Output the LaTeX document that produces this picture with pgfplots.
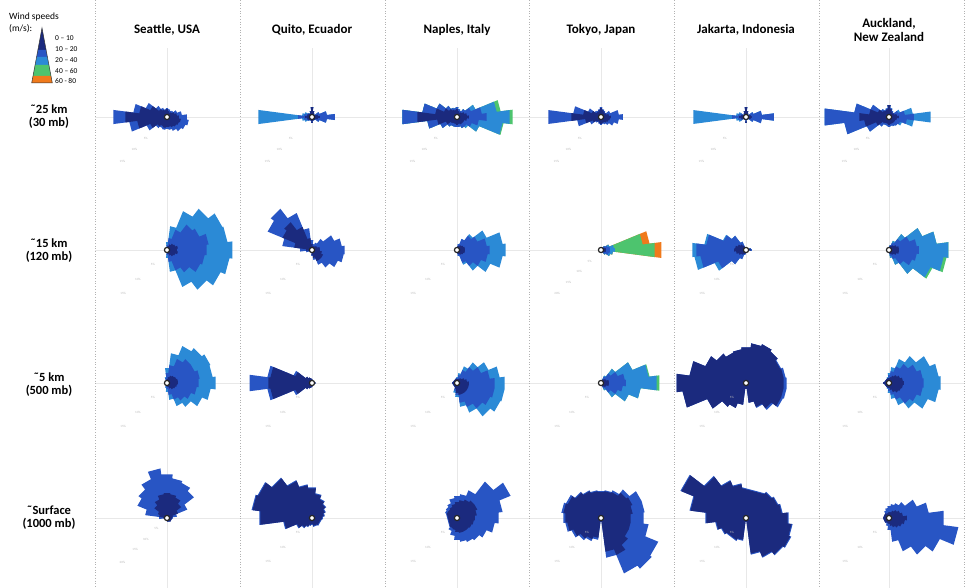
\documentclass[border=0pt]{standalone}
\usepackage{fontspec}
\setmainfont{Carlito}
\usepackage{pgfplots}
\pgfplotsset{compat=1.18}
\usepackage{pgfplotstable}
\usepgfplotslibrary{polar}
\definecolor{cA}{HTML}{1B2A7E}
\definecolor{cB}{HTML}{2855C4}
\definecolor{cC}{HTML}{2B8AD6}
\definecolor{cD}{HTML}{4DC46E}
\definecolor{cE}{HTML}{F07A1C}
\pgfplotsset{
  rose/.style={width=200pt,height=200pt,scale only axis,xmin=0,xmax=360,ymin=0,ymax=100,
    enlargelimits=false,hide axis,clip=false,anchor=center},
  ctr/.style={mark=*,mark size=2.6pt,mark options={fill=white,draw=black!85,line width=1.2pt}},
}
\tikzset{rl/.style={font=\fontsize{3.2}{3.2}\selectfont,text=gray!55,inner sep=0pt}}
% ---------- 25 km ----------
\pgfplotstableread{
a r1 r2
-7.5 12 20
7.5 12 20
7.5 10 15
22.5 10 15
22.5 8 11
37.5 8 11
37.5 6 8
52.5 6 8
52.5 5 7
67.5 5 7
67.5 6 8
82.5 6 8
82.5 8 9
97.5 8 9
97.5 7 8
112.5 7 8
112.5 8 10
127.5 8 10
127.5 10 14
142.5 10 14
142.5 18 23
157.5 18 23
157.5 28 34
172.5 28 34
172.5 42 54
187.5 42 54
187.5 30 38
202.5 30 38
202.5 18 22
217.5 18 22
217.5 12 14
232.5 12 14
232.5 10 12
247.5 10 12
247.5 11 13
262.5 11 13
262.5 10 12
277.5 10 12
277.5 10 13
292.5 10 13
292.5 11 15
307.5 11 15
307.5 12 18
322.5 12 18
322.5 13 20
337.5 13 20
337.5 14 22
352.5 14 22
}\tAa
\pgfplotstableread{
a r1 r2 r3
-7.5 8 23 23
7.5 8 23 23
7.5 6 15 15
22.5 6 15 15
22.5 4 8 8
37.5 4 8 8
37.5 3 3 3
52.5 3 3 3
52.5 4 4 4
67.5 4 4 4
67.5 6 6 6
82.5 6 6 6
82.5 10 10 10
97.5 10 10 10
97.5 6 6 6
112.5 6 6 6
112.5 4 4 4
127.5 4 4 4
127.5 4 5 5
142.5 4 5 5
142.5 5 6 8
157.5 5 6 8
157.5 5 8 10
172.5 5 8 10
172.5 7 14 54
187.5 7 14 54
187.5 5 8 10
202.5 5 8 10
202.5 5 6 8
217.5 5 6 8
217.5 4 5 5
232.5 4 5 5
232.5 3 3 3
247.5 3 3 3
247.5 4 4 4
262.5 4 4 4
262.5 6 6 6
277.5 6 6 6
277.5 4 4 4
292.5 4 4 4
292.5 3 3 3
307.5 3 3 3
307.5 4 4 4
322.5 4 4 4
322.5 4 8 8
337.5 4 8 8
337.5 6 15 15
352.5 6 15 15
}\tAb
\pgfplotstableread{
a r1 r2 r3 r4
-7.5 12 30 53 56
7.5 12 30 53 56
7.5 10 25 40 44
22.5 10 25 40 44
22.5 8 15 20 20
37.5 8 15 20 20
37.5 6 10 10 10
52.5 6 10 10 10
52.5 5 7 7 7
67.5 5 7 7 7
67.5 6 8 8 8
82.5 6 8 8 8
82.5 8 10 10 10
97.5 8 10 10 10
97.5 7 9 9 9
112.5 7 9 9 9
112.5 8 10 10 10
127.5 8 10 10 10
127.5 10 14 14 14
142.5 10 14 14 14
142.5 14 22 22 22
157.5 14 22 22 22
157.5 22 35 35 35
172.5 22 35 35 35
172.5 40 55 55 55
187.5 40 55 55 55
187.5 20 30 30 30
202.5 20 30 30 30
202.5 12 18 18 18
217.5 12 18 18 18
217.5 8 12 12 12
232.5 8 12 12 12
232.5 7 10 10 10
247.5 7 10 10 10
247.5 7 10 10 10
262.5 7 10 10 10
262.5 8 10 10 10
277.5 8 10 10 10
277.5 7 10 10 10
292.5 7 10 10 10
292.5 8 12 12 12
307.5 8 12 12 12
307.5 8 12 14 14
322.5 8 12 14 14
322.5 8 16 24 24
337.5 8 16 24 24
337.5 10 22 46 47
352.5 10 22 46 47
}\tAc
\pgfplotstableread{
a r1 r2
-7.5 10 22
7.5 10 22
7.5 8 18
22.5 8 18
22.5 6 10
37.5 6 10
37.5 5 6
52.5 5 6
52.5 6 7
67.5 6 7
67.5 7 8
82.5 7 8
82.5 9 10
97.5 9 10
97.5 7 8
112.5 7 8
112.5 6 7
127.5 6 7
127.5 6 8
142.5 6 8
142.5 10 14
157.5 10 14
157.5 18 28
172.5 18 28
172.5 30 53
187.5 30 53
187.5 16 24
202.5 16 24
202.5 9 12
217.5 9 12
217.5 6 7
232.5 6 7
232.5 5 6
247.5 5 6
247.5 6 7
262.5 6 7
262.5 7 8
277.5 7 8
277.5 6 7
292.5 6 7
292.5 6 8
307.5 6 8
307.5 7 10
322.5 7 10
322.5 8 14
337.5 8 14
337.5 9 18
352.5 9 18
}\tAd
\pgfplotstableread{
a r1 r2 r3
-7.5 6 28 28
7.5 6 28 28
7.5 5 16 16
22.5 5 16 16
22.5 4 8 8
37.5 4 8 8
37.5 3 3 3
52.5 3 3 3
52.5 4 4 4
67.5 4 4 4
67.5 6 6 6
82.5 6 6 6
82.5 10 10 10
97.5 10 10 10
97.5 6 6 6
112.5 6 6 6
112.5 4 4 4
127.5 4 4 4
127.5 3 3 3
142.5 3 3 3
142.5 4 6 8
157.5 4 6 8
157.5 5 8 10
172.5 5 8 10
172.5 7 14 53
187.5 7 14 53
187.5 5 8 10
202.5 5 8 10
202.5 4 6 8
217.5 4 6 8
217.5 3 3 3
262.5 3 3 3
262.5 6 6 6
277.5 6 6 6
277.5 3 3 3
322.5 3 3 3
322.5 4 8 8
337.5 4 8 8
337.5 5 16 16
352.5 5 16 16
}\tAe
\pgfplotstableread{
a r1 r2 r3
-7.5 10 25 42
7.5 10 25 42
7.5 8 16 24
22.5 8 16 24
22.5 6 10 12
37.5 6 10 12
37.5 5 6 6
52.5 5 6 6
52.5 6 7 7
67.5 6 7 7
67.5 8 9 9
82.5 8 9 9
82.5 12 12 12
97.5 12 12 12
97.5 8 9 9
112.5 8 9 9
112.5 7 8 8
127.5 7 8 8
127.5 8 10 10
142.5 8 10 10
142.5 12 20 20
157.5 12 20 20
157.5 20 35 35
172.5 20 35 35
172.5 30 65 65
187.5 30 65 65
187.5 25 45 45
202.5 25 45 45
202.5 14 24 24
217.5 14 24 24
217.5 8 12 12
232.5 8 12 12
232.5 7 9 9
262.5 7 9 9
262.5 8 10 10
277.5 8 10 10
277.5 7 9 9
292.5 7 9 9
292.5 7 10 10
307.5 7 10 10
307.5 7 11 11
322.5 7 11 11
322.5 7 12 14
337.5 7 12 14
337.5 8 18 25
352.5 8 18 25
}\tAf
% ---------- 15 km ----------
\pgfplotstableread{
a r1 r2 r3
-7.5 10 40 66
7.5 10 40 66
7.5 11 42 61
22.5 11 42 61
22.5 9 35 60
37.5 9 35 60
37.5 8 32 52
52.5 8 32 52
52.5 6 22 42
67.5 6 22 42
67.5 4 12 24
82.5 4 12 24
82.5 3 5 8
97.5 3 5 8
97.5 3 3 3
180 3 3 3
262.5 3 3 3
262.5 3 5 8
277.5 3 5 8
277.5 4 12 22
292.5 4 12 22
292.5 6 22 40
307.5 6 22 40
307.5 8 28 50
322.5 8 28 50
322.5 9 36 58
337.5 9 36 58
337.5 11 38 63
352.5 11 38 63
}\tBa
\pgfplotstableread{
a r1 r2
-7.5 8 33
7.5 8 33
7.5 8 30
22.5 8 30
22.5 6 24
37.5 6 24
37.5 5 14
52.5 5 14
52.5 4 8
67.5 4 8
67.5 4 6
82.5 4 6
82.5 6 10
97.5 6 10
97.5 12 22
112.5 12 22
112.5 25 40
127.5 25 40
127.5 35 52
142.5 35 52
142.5 32 48
157.5 32 48
157.5 18 30
172.5 18 30
172.5 6 12
187.5 6 12
187.5 4 6
202.5 4 6
202.5 3 3
262.5 3 3
262.5 5 6
277.5 5 6
277.5 8 10
292.5 8 10
292.5 12 16
307.5 12 16
307.5 12 22
322.5 12 22
322.5 12 28
337.5 12 28
337.5 10 32
352.5 10 32
}\tBb
\pgfplotstableread{
a r1 r2 r3
-7.5 8 33 49
7.5 8 33 49
7.5 8 30 46
22.5 8 30 46
22.5 7 22 32
37.5 7 22 32
37.5 6 18 20
52.5 6 18 20
52.5 5 12 12
67.5 5 12 12
67.5 4 6 6
82.5 4 6 6
82.5 3 3 3
180 3 3 3
277.5 3 3 3
277.5 4 6 6
292.5 4 6 6
292.5 5 14 16
307.5 5 14 16
307.5 6 20 26
322.5 6 20 26
322.5 7 26 36
337.5 7 26 36
337.5 8 31 46
352.5 8 31 46
}\tBc
\pgfplotstableread{
a r1 r2 r3 r4 r5
-7.5 5 9 14 54 61
7.5 5 9 14 54 61
7.5 5 9 13 42 49
22.5 5 9 13 42 49
22.5 4 7 9 9 9
37.5 4 7 9 9 9
37.5 3 5 5 5 5
52.5 3 5 5 5 5
52.5 3 3 3 3 3
180 3 3 3 3 3
307.5 3 3 3 3 3
307.5 3 5 6 6 6
322.5 3 5 6 6 6
322.5 4 8 10 10 10
337.5 4 8 10 10 10
337.5 5 9 12 12 12
352.5 5 9 12 12 12
}\tBd
\pgfplotstableread{
a r1 r2 r3
-7.5 5 6 6
7.5 5 6 6
7.5 4 5 5
22.5 4 5 5
22.5 3 3 3
112.5 3 3 3
112.5 5 9 9
127.5 5 9 9
127.5 7 18 18
142.5 7 18 18
142.5 9 24 25
157.5 9 24 25
157.5 11 40 42
172.5 11 40 42
172.5 12 50 54
187.5 12 50 54
187.5 10 46 52
202.5 10 46 52
202.5 8 30 34
217.5 8 30 34
217.5 6 18 18
232.5 6 18 18
232.5 5 10 10
247.5 5 10 10
247.5 4 5 5
262.5 4 5 5
262.5 3 3 3
352.5 3 3 3
}\tBe
\pgfplotstableread{
a r1 r2 r3 r4
-7.5 10 30 60 60
7.5 10 30 60 60
7.5 10 28 48 48
22.5 10 28 48 48
22.5 8 22 36 36
37.5 8 22 36 36
37.5 6 14 20 20
52.5 6 14 20 20
52.5 5 8 10 10
67.5 5 8 10 10
67.5 4 5 5 5
82.5 4 5 5 5
82.5 3 3 3 3
180 3 3 3 3
277.5 3 3 3 3
277.5 4 6 8 8
292.5 4 6 8 8
292.5 5 10 16 16
307.5 5 10 16 16
307.5 6 18 30 30
322.5 6 18 30 30
322.5 8 25 45 47
337.5 8 25 45 47
337.5 10 28 55 58
352.5 10 28 55 58
}\tBf
% ---------- 5 km ----------
\pgfplotstableread{
a r1 r2 r3
-7.5 11 32 49
7.5 11 32 49
7.5 11 33 46
22.5 11 33 46
22.5 10 30 47
37.5 10 30 47
37.5 9 30 44
52.5 9 30 44
52.5 8 26 40
67.5 8 26 40
67.5 6 18 30
82.5 6 18 30
82.5 4 10 15
97.5 4 10 15
97.5 3 5 6
112.5 3 5 6
112.5 2 2 2
180 2 2 2
247.5 2 2 2
247.5 3 4 5
262.5 3 4 5
262.5 3 6 9
277.5 3 6 9
277.5 4 12 17
292.5 4 12 17
292.5 6 18 25
307.5 6 18 25
307.5 8 22 30
322.5 8 22 30
322.5 9 26 38
337.5 9 26 38
337.5 10 30 44
352.5 10 30 44
}\tCa
\pgfplotstableread{
a r1 r2
-7.5 4 4
7.5 4 4
7.5 3 3
82.5 3 3
82.5 4 4
97.5 4 4
97.5 5 5
112.5 5 5
112.5 6 6
127.5 6 6
127.5 8 8
142.5 8 8
142.5 18 20
157.5 18 20
157.5 42 45
172.5 42 45
172.5 44 63
187.5 44 63
187.5 42 45
202.5 42 45
202.5 18 20
217.5 18 20
217.5 8 8
232.5 8 8
232.5 6 6
247.5 6 6
247.5 5 5
262.5 5 5
262.5 4 4
277.5 4 4
277.5 3 3
352.5 3 3
}\tCb
\pgfplotstableread{
a r1 r2 r3
-7.5 12 38 48
7.5 12 38 48
7.5 10 33 43
22.5 10 33 43
22.5 8 26 34
37.5 8 26 34
37.5 6 20 26
52.5 6 20 26
52.5 5 14 18
67.5 5 14 18
67.5 4 8 10
82.5 4 8 10
82.5 4 5 6
97.5 4 5 6
97.5 5 5 5
180 5 5 5
247.5 5 5 5
247.5 6 8 10
262.5 6 8 10
262.5 10 12 14
277.5 10 12 14
277.5 12 20 24
292.5 12 20 24
292.5 12 26 32
307.5 12 26 32
307.5 12 32 42
322.5 12 32 42
322.5 12 36 47
337.5 12 36 47
337.5 12 38 48
352.5 12 38 48
}\tCc
\pgfplotstableread{
a r1 r2 r3 r4
-7.5 8 25 56 59
7.5 8 25 56 59
7.5 8 24 48 49
22.5 8 24 48 49
22.5 6 18 34 34
37.5 6 18 34 34
37.5 5 12 18 18
52.5 5 12 18 18
52.5 4 7 8 8
67.5 4 7 8 8
67.5 3 3 3 3
180 3 3 3 3
292.5 3 3 3 3
292.5 4 6 8 8
307.5 4 6 8 8
307.5 5 12 18 18
322.5 5 12 18 18
322.5 6 18 30 30
337.5 6 18 30 30
337.5 8 22 40 40
352.5 8 22 40 40
}\tCd
\pgfplotstableread{
a r1 r2
-7.5 38 41
7.5 38 41
7.5 38 40
22.5 38 40
22.5 37 38
37.5 37 38
37.5 40 40
52.5 40 40
52.5 42 42
67.5 42 42
67.5 40 40
82.5 40 40
82.5 36 36
97.5 36 36
97.5 34 34
112.5 34 34
112.5 33 33
127.5 33 33
127.5 37 37
142.5 37 37
142.5 44 44
157.5 44 44
157.5 57 57
172.5 57 57
172.5 70 70
187.5 70 70
187.5 64 64
202.5 64 64
202.5 42 42
217.5 42 42
217.5 30 30
232.5 30 30
232.5 27 27
247.5 27 27
247.5 22 22
262.5 22 22
262.5 6 6
277.5 6 6
277.5 20 20
292.5 20 20
292.5 26 27
307.5 26 27
307.5 32 34
322.5 32 34
322.5 38 40
337.5 38 40
337.5 38 41
352.5 38 41
}\tCe
\pgfplotstableread{
a r1 r2 r3
-7.5 15 35 52
7.5 15 35 52
7.5 14 34 50
22.5 14 34 50
22.5 12 30 44
37.5 12 30 44
37.5 10 24 34
52.5 10 24 34
52.5 8 18 26
67.5 8 18 26
67.5 6 12 16
82.5 6 12 16
82.5 5 8 10
97.5 5 8 10
97.5 5 5 6
112.5 5 5 6
112.5 5 5 5
172.5 5 5 5
172.5 6 6 6
187.5 6 6 6
187.5 5 5 5
247.5 5 5 5
247.5 5 5 6
262.5 5 5 6
262.5 5 8 10
277.5 5 8 10
277.5 7 12 16
292.5 7 12 16
292.5 10 18 24
307.5 10 18 24
307.5 12 26 32
322.5 12 26 32
322.5 13 30 42
337.5 13 30 42
337.5 14 34 50
352.5 14 34 50
}\tCf
% ---------- surface ----------
\pgfplotstableread{
a r1 r2
-7.5 5 6
7.5 5 6
7.5 6 10
22.5 6 10
22.5 12 22
37.5 12 22
37.5 18 34
52.5 18 34
52.5 22 38
67.5 22 38
67.5 24 40
82.5 24 40
82.5 25 44
97.5 25 44
97.5 24 50
112.5 24 50
112.5 20 42
127.5 20 42
127.5 16 36
142.5 16 36
142.5 10 32
157.5 10 32
157.5 8 22
172.5 8 22
172.5 4 8
187.5 4 8
187.5 2 2
262.5 2 2
262.5 3 3
277.5 3 3
277.5 4 4
307.5 4 4
307.5 5 5
352.5 5 5
}\tDa
\pgfplotstableread{
a r1 r2
-7.5 10 11
7.5 10 11
7.5 12 13
22.5 12 13
22.5 14 15
37.5 14 15
37.5 17 18
52.5 17 18
52.5 20 21
67.5 20 21
67.5 24 25
82.5 24 25
82.5 30 31
97.5 30 31
97.5 33 34
112.5 33 34
112.5 40 41
127.5 40 41
127.5 50 51
142.5 50 51
142.5 58 59
157.5 58 59
157.5 60 61
172.5 60 61
172.5 52 53
187.5 52 53
187.5 28 29
202.5 28 29
202.5 16 17
217.5 16 17
217.5 12 13
232.5 12 13
232.5 9 10
247.5 9 10
247.5 7 8
262.5 7 8
262.5 6 7
277.5 6 7
277.5 8 9
307.5 8 9
307.5 9 10
352.5 9 10
}\tDb
\pgfplotstableread{
a r1 r2
-7.5 18 42
7.5 18 42
7.5 20 46
22.5 20 46
22.5 22 58
37.5 22 58
37.5 22 46
52.5 22 46
52.5 20 30
67.5 20 30
67.5 18 24
82.5 18 24
82.5 16 22
97.5 16 22
97.5 14 20
112.5 14 20
112.5 12 16
127.5 12 16
127.5 11 14
142.5 11 14
142.5 11 13
157.5 11 13
157.5 11 12
232.5 11 12
232.5 11 14
247.5 11 14
247.5 12 18
262.5 12 18
262.5 14 22
277.5 14 22
277.5 15 24
292.5 15 24
292.5 15 26
307.5 15 26
307.5 15 28
322.5 15 28
322.5 16 32
337.5 16 32
337.5 17 38
352.5 17 38
}\tDc
\pgfplotstableread{
a r1 r2
-7.5 30 43
7.5 30 43
7.5 32 44
22.5 32 44
22.5 34 44
37.5 34 44
37.5 32 36
52.5 32 36
52.5 28 30
67.5 28 30
67.5 27 28
82.5 27 28
82.5 26 27
97.5 26 27
97.5 27 28
112.5 27 28
112.5 29 30
127.5 29 30
127.5 32 33
142.5 32 33
142.5 36 38
157.5 36 38
157.5 38 40
172.5 38 40
172.5 36 38
187.5 36 38
187.5 34 36
202.5 34 36
202.5 30 32
217.5 30 32
217.5 26 28
232.5 26 28
232.5 23 25
247.5 23 25
247.5 20 22
262.5 20 22
262.5 4 4
277.5 4 4
277.5 34 40
292.5 34 40
292.5 40 60
307.5 40 60
307.5 34 64
322.5 34 64
322.5 30 62
337.5 30 62
337.5 30 48
352.5 30 48
}\tDd
\pgfplotstableread{
a r1 r2
-7.5 42 43
7.5 42 43
7.5 36 37
22.5 36 37
22.5 34 35
37.5 34 35
37.5 32 33
52.5 32 33
52.5 30 31
97.5 30 31
97.5 34 35
112.5 34 35
112.5 40 41
127.5 40 41
127.5 52 53
142.5 52 53
142.5 70 71
157.5 70 71
157.5 56 57
172.5 56 57
172.5 40 41
187.5 40 41
187.5 30 31
202.5 30 31
202.5 26 27
217.5 26 27
217.5 24 25
247.5 24 25
247.5 22 23
262.5 22 23
262.5 4 4
277.5 4 4
277.5 36 37
292.5 36 37
292.5 42 43
307.5 42 43
307.5 46 47
322.5 46 47
322.5 48 49
337.5 48 49
337.5 46 47
352.5 46 47
}\tDe
\pgfplotstableread{
a r1 r2
-7.5 18 55
7.5 18 55
7.5 14 40
22.5 14 40
22.5 12 30
37.5 12 30
37.5 10 20
52.5 10 20
52.5 8 16
67.5 8 16
67.5 6 14
82.5 6 14
82.5 6 12
97.5 6 12
97.5 5 10
112.5 5 10
112.5 5 8
127.5 5 8
127.5 6 6
180 6 6
232.5 6 6
232.5 5 6
247.5 5 6
247.5 5 8
262.5 5 8
262.5 6 12
277.5 6 12
277.5 8 24
292.5 8 24
292.5 10 36
307.5 10 36
307.5 12 46
322.5 12 46
322.5 14 55
337.5 14 55
337.5 16 70
352.5 16 70
}\tDf

\begin{document}
\begin{tikzpicture}[x=1pt,y=-1pt]
\path[use as bounding box] (0,0) rectangle (975,588);
% crosshair guide lines
\foreach \x in {167,312,457,601,746,889} \draw[gray!18,line width=0.7pt] (\x,48) -- (\x,588);
\foreach \y in {117,250,383,518} \draw[gray!18,line width=0.7pt] (95,\y) -- (964,\y);
% column separators
\foreach \x in {95,240.5,385,529.5,674.5,819,964} \draw[gray!60,dotted,line width=0.7pt] (\x,0) -- (\x,588);

% ===== row 1: ~25 km =====
\begin{polaraxis}[rose,at={(167pt,-117pt)}]
\addplot[fill=cB,draw=none] table[x=a,y=r2]{\tAa};
\addplot[fill=cA,draw=none] table[x=a,y=r1]{\tAa};
\addplot[ctr] coordinates {(0,0)};
\node[rl] at (axis cs:225,30) {5\%};\node[rl] at (axis cs:225,46) {10\%};\node[rl] at (axis cs:225,63) {15\%};
\end{polaraxis}
\begin{polaraxis}[rose,at={(312pt,-117pt)}]
\addplot[fill=cC,draw=none] table[x=a,y=r3]{\tAb};
\addplot[fill=cB,draw=none] table[x=a,y=r2]{\tAb};
\addplot[fill=cA,draw=none] table[x=a,y=r1]{\tAb};
\addplot[ctr] coordinates {(0,0)};
\node[rl] at (axis cs:225,30) {5\%};\node[rl] at (axis cs:225,46) {10\%};\node[rl] at (axis cs:225,63) {15\%};
\end{polaraxis}
\begin{polaraxis}[rose,at={(457pt,-117pt)}]
\addplot[fill=cD,draw=none] table[x=a,y=r4]{\tAc};
\addplot[fill=cC,draw=none] table[x=a,y=r3]{\tAc};
\addplot[fill=cB,draw=none] table[x=a,y=r2]{\tAc};
\addplot[fill=cA,draw=none] table[x=a,y=r1]{\tAc};
\addplot[ctr] coordinates {(0,0)};
\node[rl] at (axis cs:225,30) {5\%};\node[rl] at (axis cs:225,46) {10\%};\node[rl] at (axis cs:225,63) {15\%};
\end{polaraxis}
\begin{polaraxis}[rose,at={(601pt,-117pt)}]
\addplot[fill=cB,draw=none] table[x=a,y=r2]{\tAd};
\addplot[fill=cA,draw=none] table[x=a,y=r1]{\tAd};
\addplot[ctr] coordinates {(0,0)};
\node[rl] at (axis cs:225,30) {5\%};\node[rl] at (axis cs:225,46) {10\%};\node[rl] at (axis cs:225,63) {15\%};
\end{polaraxis}
\begin{polaraxis}[rose,at={(746pt,-117pt)}]
\addplot[fill=cC,draw=none] table[x=a,y=r3]{\tAe};
\addplot[fill=cB,draw=none] table[x=a,y=r2]{\tAe};
\addplot[fill=cA,draw=none] table[x=a,y=r1]{\tAe};
\addplot[ctr] coordinates {(0,0)};
\node[rl] at (axis cs:225,30) {5\%};\node[rl] at (axis cs:225,46) {10\%};\node[rl] at (axis cs:225,63) {15\%};
\end{polaraxis}
\begin{polaraxis}[rose,at={(889pt,-117pt)}]
\addplot[fill=cC,draw=none] table[x=a,y=r3]{\tAf};
\addplot[fill=cB,draw=none] table[x=a,y=r2]{\tAf};
\addplot[fill=cA,draw=none] table[x=a,y=r1]{\tAf};
\addplot[ctr] coordinates {(0,0)};
\node[rl] at (axis cs:225,30) {5\%};\node[rl] at (axis cs:225,46) {10\%};\node[rl] at (axis cs:225,63) {15\%};
\end{polaraxis}

% ===== row 2: ~15 km =====
\begin{polaraxis}[rose,at={(167pt,-250pt)}]
\addplot[fill=cC,draw=none] table[x=a,y=r3]{\tBa};
\addplot[fill=cB,draw=none] table[x=a,y=r2]{\tBa};
\addplot[fill=cA,draw=none] table[x=a,y=r1]{\tBa};
\addplot[ctr] coordinates {(0,0)};
\node[rl] at (axis cs:225,20) {5\%};\node[rl] at (axis cs:225,41) {10\%};\node[rl] at (axis cs:225,62) {15\%};
\end{polaraxis}
\begin{polaraxis}[rose,at={(312pt,-250pt)}]
\addplot[fill=cB,draw=none] table[x=a,y=r2]{\tBb};
\addplot[fill=cA,draw=none] table[x=a,y=r1]{\tBb};
\addplot[ctr] coordinates {(0,0)};
\node[rl] at (axis cs:225,20) {5\%};\node[rl] at (axis cs:225,41) {10\%};\node[rl] at (axis cs:225,62) {15\%};
\end{polaraxis}
\begin{polaraxis}[rose,at={(457pt,-250pt)}]
\addplot[fill=cC,draw=none] table[x=a,y=r3]{\tBc};
\addplot[fill=cB,draw=none] table[x=a,y=r2]{\tBc};
\addplot[fill=cA,draw=none] table[x=a,y=r1]{\tBc};
\addplot[ctr] coordinates {(0,0)};
\node[rl] at (axis cs:225,20) {5\%};\node[rl] at (axis cs:225,41) {10\%};\node[rl] at (axis cs:225,62) {15\%};
\end{polaraxis}
\begin{polaraxis}[rose,at={(601pt,-250pt)}]
\addplot[fill=cE,draw=none] table[x=a,y=r5]{\tBd};
\addplot[fill=cD,draw=none] table[x=a,y=r4]{\tBd};
\addplot[fill=cC,draw=none] table[x=a,y=r3]{\tBd};
\addplot[fill=cB,draw=none] table[x=a,y=r2]{\tBd};
\addplot[fill=cA,draw=none] table[x=a,y=r1]{\tBd};
\addplot[ctr] coordinates {(0,0)};
\node[rl] at (axis cs:225,16) {5\%};\node[rl] at (axis cs:225,31) {10\%};\node[rl] at (axis cs:225,46) {15\%};\node[rl] at (axis cs:225,62) {20\%};
\end{polaraxis}
\begin{polaraxis}[rose,at={(746pt,-250pt)}]
\addplot[fill=cC,draw=none] table[x=a,y=r3]{\tBe};
\addplot[fill=cB,draw=none] table[x=a,y=r2]{\tBe};
\addplot[fill=cA,draw=none] table[x=a,y=r1]{\tBe};
\addplot[ctr] coordinates {(0,0)};
\node[rl] at (axis cs:225,20) {5\%};\node[rl] at (axis cs:225,41) {10\%};\node[rl] at (axis cs:225,62) {15\%};
\end{polaraxis}
\begin{polaraxis}[rose,at={(889pt,-250pt)}]
\addplot[fill=cD,draw=none] table[x=a,y=r4]{\tBf};
\addplot[fill=cC,draw=none] table[x=a,y=r3]{\tBf};
\addplot[fill=cB,draw=none] table[x=a,y=r2]{\tBf};
\addplot[fill=cA,draw=none] table[x=a,y=r1]{\tBf};
\addplot[ctr] coordinates {(0,0)};
\node[rl] at (axis cs:225,20) {5\%};\node[rl] at (axis cs:225,41) {10\%};\node[rl] at (axis cs:225,62) {15\%};
\end{polaraxis}

% ===== row 3: ~5 km =====
\begin{polaraxis}[rose,at={(167pt,-383pt)}]
\addplot[fill=cC,draw=none] table[x=a,y=r3]{\tCa};
\addplot[fill=cB,draw=none] table[x=a,y=r2]{\tCa};
\addplot[fill=cA,draw=none] table[x=a,y=r1]{\tCa};
\addplot[ctr] coordinates {(0,0)};
\node[rl] at (axis cs:225,20) {5\%};\node[rl] at (axis cs:225,41) {10\%};\node[rl] at (axis cs:225,62) {15\%};
\end{polaraxis}
\begin{polaraxis}[rose,at={(312pt,-383pt)}]
\addplot[fill=cB,draw=none] table[x=a,y=r2]{\tCb};
\addplot[fill=cA,draw=none] table[x=a,y=r1]{\tCb};
\addplot[ctr] coordinates {(0,0)};
\node[rl] at (axis cs:225,20) {5\%};\node[rl] at (axis cs:225,41) {10\%};\node[rl] at (axis cs:225,62) {15\%};
\end{polaraxis}
\begin{polaraxis}[rose,at={(457pt,-383pt)}]
\addplot[fill=cC,draw=none] table[x=a,y=r3]{\tCc};
\addplot[fill=cB,draw=none] table[x=a,y=r2]{\tCc};
\addplot[fill=cA,draw=none] table[x=a,y=r1]{\tCc};
\addplot[ctr] coordinates {(0,0)};
\node[rl] at (axis cs:225,20) {5\%};\node[rl] at (axis cs:225,41) {10\%};\node[rl] at (axis cs:225,62) {15\%};
\end{polaraxis}
\begin{polaraxis}[rose,at={(601pt,-383pt)}]
\addplot[fill=cD,draw=none] table[x=a,y=r4]{\tCd};
\addplot[fill=cC,draw=none] table[x=a,y=r3]{\tCd};
\addplot[fill=cB,draw=none] table[x=a,y=r2]{\tCd};
\addplot[fill=cA,draw=none] table[x=a,y=r1]{\tCd};
\addplot[ctr] coordinates {(0,0)};
\node[rl] at (axis cs:225,20) {5\%};\node[rl] at (axis cs:225,41) {10\%};\node[rl] at (axis cs:225,62) {15\%};
\end{polaraxis}
\begin{polaraxis}[rose,at={(746pt,-383pt)}]
\addplot[fill=cB,draw=none] table[x=a,y=r2]{\tCe};
\addplot[fill=cA,draw=none] table[x=a,y=r1]{\tCe};
\addplot[ctr] coordinates {(0,0)};
\node[rl] at (axis cs:225,20) {5\%};\node[rl] at (axis cs:225,41) {10\%};\node[rl] at (axis cs:225,62) {15\%};
\end{polaraxis}
\begin{polaraxis}[rose,at={(889pt,-383pt)}]
\addplot[fill=cC,draw=none] table[x=a,y=r3]{\tCf};
\addplot[fill=cB,draw=none] table[x=a,y=r2]{\tCf};
\addplot[fill=cA,draw=none] table[x=a,y=r1]{\tCf};
\addplot[ctr] coordinates {(0,0)};
\node[rl] at (axis cs:225,20) {5\%};\node[rl] at (axis cs:225,41) {10\%};\node[rl] at (axis cs:225,62) {15\%};
\end{polaraxis}

% ===== row 4: surface =====
\begin{polaraxis}[rose,at={(167pt,-518pt)}]
\addplot[fill=cB,draw=none] table[x=a,y=r2]{\tDa};
\addplot[fill=cA,draw=none] table[x=a,y=r1]{\tDa};
\addplot[ctr] coordinates {(0,0)};
\node[rl] at (axis cs:225,15) {5\%};\node[rl] at (axis cs:225,30) {10\%};\node[rl] at (axis cs:225,45) {15\%};\node[rl] at (axis cs:225,63) {20\%};
\end{polaraxis}
\begin{polaraxis}[rose,at={(312pt,-518pt)}]
\addplot[fill=cB,draw=none] table[x=a,y=r2]{\tDb};
\addplot[fill=cA,draw=none] table[x=a,y=r1]{\tDb};
\addplot[ctr] coordinates {(0,0)};
\node[rl] at (axis cs:225,20) {5\%};\node[rl] at (axis cs:225,41) {10\%};\node[rl] at (axis cs:225,62) {15\%};
\end{polaraxis}
\begin{polaraxis}[rose,at={(457pt,-518pt)}]
\addplot[fill=cB,draw=none] table[x=a,y=r2]{\tDc};
\addplot[fill=cA,draw=none] table[x=a,y=r1]{\tDc};
\addplot[ctr] coordinates {(0,0)};
\node[rl] at (axis cs:225,20) {5\%};\node[rl] at (axis cs:225,41) {10\%};\node[rl] at (axis cs:225,62) {15\%};
\end{polaraxis}
\begin{polaraxis}[rose,at={(601pt,-518pt)}]
\addplot[fill=cB,draw=none] table[x=a,y=r2]{\tDd};
\addplot[fill=cA,draw=none] table[x=a,y=r1]{\tDd};
\addplot[ctr] coordinates {(0,0)};
\node[rl] at (axis cs:225,20) {5\%};\node[rl] at (axis cs:225,41) {10\%};\node[rl] at (axis cs:225,62) {15\%};
\end{polaraxis}
\begin{polaraxis}[rose,at={(746pt,-518pt)}]
\addplot[fill=cB,draw=none] table[x=a,y=r2]{\tDe};
\addplot[fill=cA,draw=none] table[x=a,y=r1]{\tDe};
\addplot[ctr] coordinates {(0,0)};
\node[rl] at (axis cs:225,20) {5\%};\node[rl] at (axis cs:225,41) {10\%};\node[rl] at (axis cs:225,62) {15\%};
\end{polaraxis}
\begin{polaraxis}[rose,at={(889pt,-518pt)}]
\addplot[fill=cB,draw=none] table[x=a,y=r2]{\tDf};
\addplot[fill=cA,draw=none] table[x=a,y=r1]{\tDf};
\addplot[ctr] coordinates {(0,0)};
\node[rl] at (axis cs:225,20) {5\%};\node[rl] at (axis cs:225,41) {10\%};\node[rl] at (axis cs:225,62) {15\%};
\end{polaraxis}

% ===== column headers =====
\begin{scope}[every node/.style={font=\bfseries\fontsize{13}{14}\selectfont,align=center}]
\node at (167,30) {Seattle, USA};
\node at (312,30) {Quito, Ecuador};
\node at (457,30) {Naples, Italy};
\node at (601,30) {Tokyo, Japan};
\node at (746,30) {Jakarta, Indonesia};
\node at (889,30) {Auckland,\\New Zealand};
\end{scope}
% ===== row labels =====
\begin{scope}[every node/.style={font=\bfseries\fontsize{12.5}{13}\selectfont,align=center}]
\node at (49,117) {˜25 km\\(30 mb)};
\node at (49,251) {˜15 km\\(120 mb)};
\node at (49,385) {˜5 km\\(500 mb)};
\node at (49,518) {˜Surface\\(1000 mb)};
\end{scope}
% ===== legend =====
\node[anchor=west,inner sep=0pt,font=\fontsize{9.5}{10}\selectfont] at (9,17) {Wind speeds};
\node[anchor=west,inner sep=0pt,font=\fontsize{9.5}{10}\selectfont] at (9,29) {(m/s):};
\fill[cA] (42,28) -- (46.1,50) -- (37.9,50) -- cycle;
\fill[cB] (37.9,50) -- (46.1,50) -- (47.4,57) -- (36.6,57) -- cycle;
\fill[cC] (36.6,57) -- (47.4,57) -- (48.9,65) -- (35.1,65) -- cycle;
\fill[cD] (35.1,65) -- (48.9,65) -- (51,76) -- (33,76) -- cycle;
\fill[cE] (33,76) -- (51,76) -- (52.3,83) -- (31.7,83) -- cycle;
\draw[black!80,line width=0.5pt] (42,28) -- (52.3,83) -- (31.7,83) -- cycle;
\begin{scope}[every node/.style={anchor=west,inner sep=0pt,font=\fontsize{7.5}{7.5}\selectfont}]
\node at (55,38) {0 – 10};
\node at (55,49) {10 – 20};
\node at (55,60) {20 – 40};
\node at (55,71) {40 – 60};
\node at (55,81) {60 - 80};
\end{scope}
\end{tikzpicture}
\end{document}
